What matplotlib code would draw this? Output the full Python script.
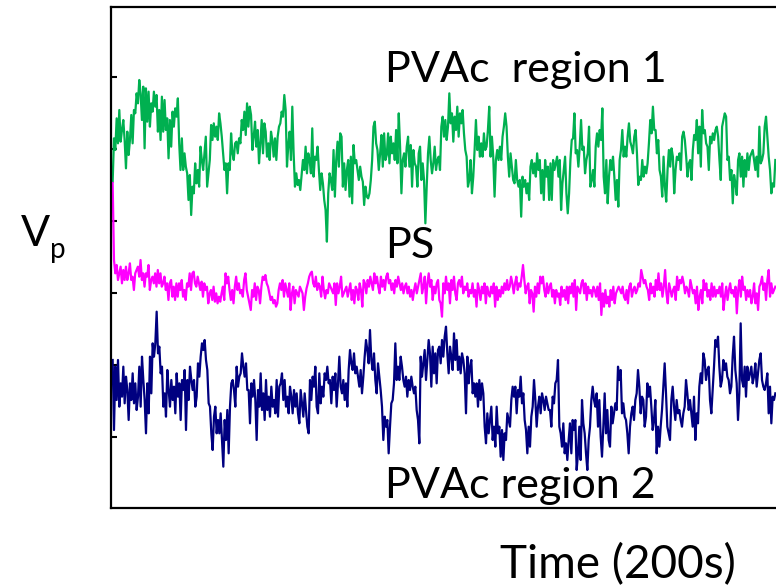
import numpy as np
import matplotlib
matplotlib.use("Agg")
from matplotlib import pyplot as plt

plt.rcParams['font.family'] = ['Lato', 'DejaVu Sans']

# surface potential traces (arbitrary units), sampled evenly over 200 s
pvac_region1 = [
    975,1105,1070,1165,1090,1190,1095,1130,1160,1100,1015,1125,1055,1100,1175,1090,1190,1180,1240,1210,
    1280,1240,1160,1260,1075,1255,1155,1245,1140,1210,1185,1245,1200,1235,1125,1190,1100,1230,1125,1220,
    1130,1165,1045,1160,1080,1185,1140,1195,1170,1225,1090,1010,1105,1010,1060,1020,1000,920,995,875,
    960,940,1030,970,1010,960,1080,1040,1010,1060,1110,960,1000,1040,1145,1100,1150,1110,1140,1100,
    1180,1150,1110,1060,1010,1030,940,1030,1010,1120,1060,1040,1090,1095,1060,1105,1090,1160,1130,1185,
    1115,1210,1140,1200,1175,1070,1110,1155,1080,1130,1030,1090,1160,1060,1150,1125,1050,1090,1040,1125,
    1100,1050,1105,1040,1110,1140,1150,1185,1170,1235,1190,1020,1085,1125,1040,1200,1060,960,1000,965,
    980,950,995,1040,1010,1080,1000,1060,1040,1000,1135,990,1050,1040,1080,1010,950,1000,970,920,
    890,795,940,1000,
    980,950,1070,930,1040,1095,1020,1120,1110,960,1030,950,1010,1040,930,1050,910,1085,1030,1040,
    1010,980,1020,990,975,905,960,930,925,940,980,1040,1140,1155,1090,1070,1010,1060,1115,1020,
    1120,1040,1055,1120,1030,1110,1060,1090,1040,1130,1030,1180,1080,940,1040,1060,1020,1080,1110,1020,
    1085,960,1070,1030,1020,960,1060,1080,980,1030,980,850,960,1060,1110,1040,1000,1030,1080,1010,
    1040,1050,1010,1140,1170,1110,1160,1100,1140,1240,1150,1180,1095,1170,1130,1200,1110,1180,1150,1190,
    1120,1070,1050,960,980,1040,940,990,1070,1160,1070,1110,1050,1090,1050,1120,1070,1080,1130,1200,
    1050,1110,1050,930,1040,1070,1040,1080,1040,1110,1140,1180,1140,1050,990,1060,1020,980,970,1040,
    980,960,980,870,990,960,980,940,970,920,1020,1040,1000,1030,990,1060,1010,1040,940,1010,
    920,1040,990,1020,920,
    1030,920,1040,1010,1030,1050,990,1040,890,970,1010,1050,940,880,940,1040,1100,1105,1180,1060,
    1070,1020,1080,1160,1070,1080,1000,1040,1060,1140,960,980,1010,960,1080,1120,1080,1130,1100,1195,
    990,940,1040,910,990,1040,1010,1050,990,920,980,900,1040,1070,1130,1050,1080,1050,1110,1150,
    1095,1080,1060,1110,1130,1060,965,990,980,1040,990,1020,1000,1030,1090,1160,1120,1200,1130,1130,
    1060,1100,1010,990,930,1050,960,915,1010,1070,1020,1075,1050,940,1010,1050,1040,1060,1010,1110,
    1125,1100,1050,990,1030,1040,980,1070,1115,1100,1160,1060,1140,1020,1190,1120,1130,1090,1080,1010,
    1110,1090,1120,1100,1130,1140,1110,1040,980,1140,1160,1180,1170,1040,1050,980,1010,910,995,970,
    935,1040,1060,990,1050,960,1040,990,1060,1010,1050,1060,1070,1040,1010,1050,990,1140,1030,1040,
    1060,1140,1170,1110,1050,1010,940,970,960,1040,
]

ps = [
    971,740,700,725,680,700,720,670,710,680,720,680,700,730,680,690,650,700,710,720,
    690,740,680,700,660,700,690,725,650,680,690,670,700,660,710,670,700,660,670,690,
    650,670,620,670,680,630,660,620,670,630,670,650,680,630,650,620,670,660,700,650,
    700,705,670,660,690,670,650,675,630,670,650,660,610,640,650,620,660,615,640,610,
    630,615,640,660,620,700,670,690,650,620,650,610,660,690,650,670,640,650,630,680,
    700,650,630,610,590,650,630,670,620,660,650,610,660,690,680,695,670,660,640,620,
    630,610,620,600,610,650,670,650,680,630,670,650,630,670,590,640,660,610,650,640,
    630,660,650,640,590,630,655,670,690,700,705,670,660,690,650,670,660,630,690,650,
    625,650,640,670,660,
    650,640,670,605,670,640,660,690,630,640,650,660,630,650,670,620,650,610,660,650,
    620,670,650,600,680,670,640,680,660,690,670,650,700,670,690,660,640,690,660,680,
    650,690,700,670,680,650,670,640,680,660,690,670,650,670,640,660,670,640,660,630,
    650,620,650,670,640,660,680,700,640,660,690,610,670,700,660,680,620,660,640,670,
    680,620,610,570,670,640,690,650,670,610,680,650,690,640,620,670,680,660,690,640,
    660,650,670,630,650,640,670,630,650,600,670,650,620,660,640,670,610,660,640,630,
    660,640,670,600,660,620,650,630,660,640,670,650,680,650,660,690,670,640,670,690,
    650,670,660,690,725,680,640,660,670,610,650,640,585,660,630,670,640,690,670,690,
    650,630,670,640,660,
    670,630,650,610,650,630,640,605,660,630,650,620,660,610,660,640,670,630,680,590,
    660,650,640,670,680,640,670,620,660,640,650,630,660,650,630,660,620,670,575,640,
    600,650,610,630,600,650,620,660,610,640,650,660,650,640,660,630,620,650,610,660,
    670,630,650,660,640,650,670,660,710,690,670,680,660,650,620,670,640,660,630,680,
    650,700,650,670,630,660,710,640,610,670,650,630,650,660,620,690,650,680,670,690,
    670,640,660,650,630,680,660,640,650,610,660,590,630,650,610,680,650,670,630,650,
    620,670,630,660,630,650,640,660,630,670,590,630,660,620,650,670,640,650,630,660,
    580,650,680,630,690,650,660,620,650,630,650,610,630,670,610,640,590,660,670,690,
    650,670,620,680,710,630,670,640,650,660,
]

pvac_region2 = [
    440,230,420,320,440,300,370,330,420,310,390,350,260,370,320,400,310,370,290,330,
    420,300,450,380,320,220,370,280,450,340,490,450,490,585,460,480,400,420,300,340,
    270,410,350,300,380,320,360,280,400,330,370,260,380,350,410,230,380,320,420,380,
    350,380,300,330,430,390,450,490,470,500,440,410,310,300,220,170,270,300,220,260,
    220,280,200,120,260,200,290,160,300,370,380,350,300,420,360,390,400,460,420,390,
    430,350,350,250,370,330,380,320,200,350,300,400,290,340,260,380,290,330,270,360,
    300,320,280,380,270,360,370,400,320,380,300,330,280,360,330,280,350,300,340,280,
    250,350,310,270,340,290,240,220,380,320,390,360,420,300,280,400,310,360,330,400,
    380,420,370,
    380,310,390,350,400,300,370,450,360,340,380,320,370,300,410,470,430,410,460,400,
    420,390,360,410,340,390,450,500,470,430,530,440,410,460,380,340,430,390,350,300,
    200,270,240,260,160,240,310,320,370,490,380,420,380,450,420,380,360,390,330,380,
    350,390,360,340,360,290,260,190,450,390,430,470,380,440,500,460,360,480,400,460,
    370,470,480,430,500,450,510,540,460,400,480,450,410,520,440,500,410,450,400,460,
    440,400,280,450,370,420,440,340,370,330,370,300,380,320,370,340,240,190,280,220,
    260,300,200,240,180,300,220,240,150,230,140,220,200,280,260,240,320,360,330,360,
    280,350,330,390,310,340,260,230,160,240,180,270,300,380,320,240,300,330,280,340,
    320,290,330,310,290,
    290,240,330,310,370,380,440,240,220,180,250,160,190,140,200,250,160,260,230,260,
    110,160,240,140,320,250,220,160,110,200,240,320,360,320,300,340,240,320,210,150,
    240,340,220,290,200,180,300,250,280,310,290,420,380,410,280,310,270,260,220,160,
    240,280,300,260,320,340,410,360,280,330,320,240,270,370,330,360,300,230,260,320,
    160,240,180,240,290,360,430,340,240,220,200,320,360,300,260,320,280,290,260,240,
    280,300,380,340,290,320,280,240,330,200,280,250,360,400,370,460,440,380,410,420,
    320,280,350,420,500,480,510,420,360,380,440,410,430,390,380,340,360,450,510,410,
    370,260,340,550,380,360,420,330,420,380,400,420,370,390,430,360,400,440,460,380,
    360,350,370,400,280,360,250,330,320,340,
]

labels = ["PVAc  region 1", "PS", "PVAc region 2"]
colors = ["#00b050", "#ff00ff", "#000080"]

fig = plt.figure(figsize=(7.76, 5.87), dpi=100)
ax = fig.add_axes([111/776, 79/587, 665/776, 501/587])

for vals, c in zip([pvac_region1, ps, pvac_region2], colors):
    t = np.linspace(0, 200, len(vals))
    ax.plot(t, vals, color=c, lw=1.6)

ax.set_xlim(-0.5, 200.2)
ax.set_ylim(-4, 1499)
ax.set_xticks([])
ax.set_yticks([209, 425, 641, 857, 1073, 1289])
ax.tick_params(axis='y', direction='in', length=4, width=1.5, labelleft=False)
ax.spines['right'].set_visible(False)
for s in ['left', 'top', 'bottom']:
    ax.spines[s].set_linewidth(1.6)

fs = 31
fig.text(385/776, 1 - 82/587, labels[0], fontsize=fs, va='baseline')
fig.text(385/776, 1 - 258/587, labels[1], fontsize=fs, va='baseline')
fig.text(385/776, 1 - 498/587, labels[2], fontsize=fs, va='baseline')
fig.text(500/776, 1 - 578/587, "Time (200s)", fontsize=33, va='baseline')
fig.text(21/776, 1 - 246/587, "V", fontsize=31, va='baseline')
fig.text(50/776, 1 - 258/587, "p", fontsize=20, va='baseline')

fig.savefig("out.png", dpi=100)
